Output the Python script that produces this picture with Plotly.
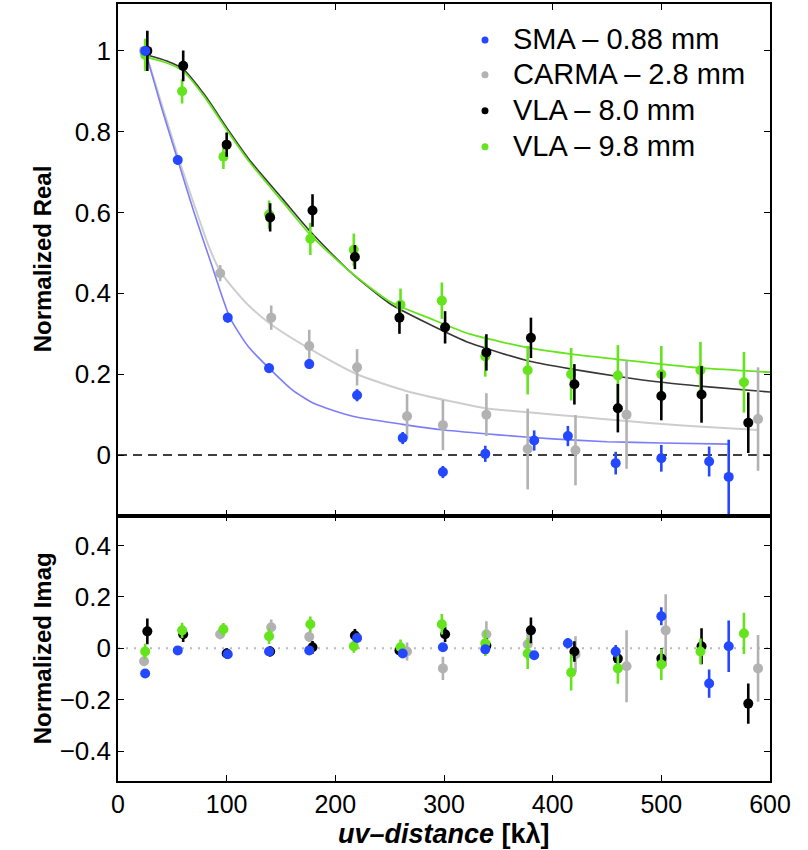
import plotly.graph_objects as go
from plotly.subplots import make_subplots

# ---------------- data ----------------
SMA_x = [25, 55, 101, 139, 176, 220, 262, 299, 338, 383, 414, 458, 500, 544, 562]
SMA_re = [1.0, 0.73, 0.34, 0.215, 0.225, 0.148, 0.042, -0.042, 0.003, 0.036, 0.047, -0.02, -0.008, -0.016, -0.054]
SMA_re_err = [0.01, 0.012, 0.012, 0.012, 0.012, 0.015, 0.015, 0.015, 0.02, 0.025, 0.025, 0.028, 0.033, 0.037, 0.092]
SMA_im = [-0.098, -0.008, -0.023, -0.012, -0.008, 0.04, -0.02, 0.004, -0.004, -0.027, 0.02, -0.012, 0.125, -0.137, 0.008]
SMA_im_err = [0.01, 0.01, 0.012, 0.012, 0.012, 0.015, 0.015, 0.015, 0.015, 0.015, 0.02, 0.025, 0.035, 0.055, 0.1]

CARMA_x = [24, 94, 141, 176, 220, 266, 299, 339, 377, 421, 468, 504, 589]
CARMA_re = [1.0, 0.45, 0.34, 0.27, 0.217, 0.096, 0.074, 0.10, 0.015, 0.012, 0.10, None, 0.089]
CARMA_re_err = [0.01, 0.02, 0.03, 0.04, 0.045, 0.055, 0.062, 0.053, 0.1, 0.087, 0.134, 0, 0.128]
CARMA_im = [-0.05, 0.055, 0.082, 0.045, 0.04, -0.012, -0.078, 0.055, 0.016, -0.023, -0.07, 0.07, -0.078]
CARMA_im_err = [0.02, 0.02, 0.03, 0.02, 0.02, 0.035, 0.045, 0.05, 0.06, 0.07, 0.14, 0.14, 0.13]

VLA8_x = [27, 60, 100, 140, 179, 218, 259, 301, 339, 380, 420, 460, 500, 537, 580]
VLA8_re = [1.0, 0.963, 0.768, 0.588, 0.605, 0.49, 0.34, 0.316, 0.254, 0.29, 0.175, 0.116, 0.146, 0.15, 0.08]
VLA8_re_err = [0.05, 0.038, 0.03, 0.035, 0.04, 0.03, 0.04, 0.04, 0.045, 0.05, 0.05, 0.06, 0.06, 0.07, 0.075]
VLA8_im = [0.066, 0.055, -0.02, -0.012, 0.004, 0.05, -0.008, 0.055, 0.01, 0.07, -0.012, -0.04, -0.04, 0.008, -0.215]
VLA8_im_err = [0.05, 0.03, 0.02, 0.02, 0.025, 0.025, 0.02, 0.03, 0.03, 0.05, 0.04, 0.04, 0.04, 0.07, 0.078]

VLA98_x = [25, 59, 97, 139, 177, 217, 260, 298, 338, 377, 417, 460, 500, 536, 576]
VLA98_re = [0.99, 0.9, 0.738, 0.595, 0.535, 0.508, 0.372, 0.382, 0.244, 0.21, 0.2, 0.197, 0.2, 0.21, 0.18]
VLA98_re_err = [0.04, 0.03, 0.03, 0.035, 0.04, 0.04, 0.04, 0.045, 0.05, 0.06, 0.065, 0.075, 0.07, 0.07, 0.075]
VLA98_im = [-0.012, 0.07, 0.074, 0.047, 0.094, 0.008, 0.004, 0.094, 0.02, -0.02, -0.094, -0.078, -0.063, -0.012, 0.058]
VLA98_im_err = [0.03, 0.03, 0.025, 0.03, 0.03, 0.025, 0.03, 0.04, 0.05, 0.06, 0.07, 0.06, 0.06, 0.05, 0.08]

# model curves
SMA_fit_x = [25, 40, 55, 70, 85, 103, 120, 139, 160, 180, 216, 262, 300, 350, 400, 450, 500, 562]
SMA_fit_y = [1.0, 0.86, 0.73, 0.60, 0.48, 0.34, 0.268, 0.215, 0.162, 0.128, 0.096, 0.076, 0.062, 0.05, 0.04, 0.033, 0.03, 0.027]
CARMA_fit_x = [25, 40, 55, 70, 83, 94, 110, 121, 140, 177, 220, 266, 315, 338, 380, 419, 468, 510, 550, 589]
CARMA_fit_y = [1.0, 0.87, 0.74, 0.62, 0.52, 0.455, 0.40, 0.368, 0.325, 0.262, 0.2, 0.158, 0.128, 0.116, 0.105, 0.096, 0.084, 0.075, 0.068, 0.062]
VLA8_fit_x = [27, 45, 60, 80, 100, 121, 152, 177, 213, 250, 287, 324, 379, 419, 459, 500, 538, 600]
VLA8_fit_y = [0.99, 0.975, 0.955, 0.89, 0.81, 0.73, 0.632, 0.553, 0.455, 0.375, 0.323, 0.277, 0.232, 0.212, 0.195, 0.18, 0.17, 0.156]
VLA98_fit_x = [25, 45, 60, 80, 100, 121, 152, 177, 213, 250, 287, 324, 379, 419, 459, 500, 538, 600]
VLA98_fit_y = [0.985, 0.97, 0.95, 0.885, 0.805, 0.725, 0.625, 0.545, 0.455, 0.38, 0.338, 0.299, 0.265, 0.249, 0.237, 0.225, 0.215, 0.205]

LABELS = ["SMA – 0.88 mm", "CARMA – 2.8 mm", "VLA – 8.0 mm", "VLA – 9.8 mm"]
X_TICKS = [0, 100, 200, 300, 400, 500, 600]
RE_TICKS = [0, 0.2, 0.4, 0.6, 0.8, 1]
RE_TICKTEXT = ["0", "0.2", "0.4", "0.6", "0.8", "1"]
IM_TICKS = [-0.4, -0.2, 0, 0.2, 0.4]
IM_TICKTEXT = ["−0.4", "−0.2", "0", "0.2", "0.4"]

# ---------------- styling ----------------
C_SMA = "rgb(36,72,255)"
C_CARMA = "rgb(178,178,178)"
C_VLA8 = "rgb(0,0,0)"
C_VLA98 = "rgb(100,228,28)"
F_SMA = "rgb(125,125,250)"
F_CARMA = "rgb(205,205,205)"
F_VLA8 = "rgb(55,55,55)"
F_VLA98 = "rgb(100,228,28)"
COLORS = [C_SMA, C_CARMA, C_VLA8, C_VLA98]
FONT = "Liberation Sans, Arial, Helvetica, sans-serif"

# plot-area geometry in pixels
W, H = 808, 850
L, R, T, B = 118, 38, 2, 69
PW, PH = W - L - R, H - T - B


def px_x(p):
    return (p - L) / PW


def px_y(p):
    return (H - B - p) / PH


fig = make_subplots(rows=2, cols=1, shared_xaxes=True, vertical_spacing=0,
                    row_heights=[513 / 779, 266 / 779])


def pts(x, y, err, color, row):
    fig.add_trace(go.Scatter(
        x=x, y=y, mode="markers", showlegend=False,
        marker=dict(color=color, size=10, line=dict(width=0)),
        error_y=dict(type="data", array=err, visible=True, width=0,
                     thickness=2.6, color=color),
        cliponaxis=True, hoverinfo="skip"), row=row, col=1)


def fit(x, y, color, width=2):
    fig.add_trace(go.Scatter(
        x=x, y=y, mode="lines", showlegend=False,
        line=dict(color=color, width=width, shape="spline", smoothing=0.6),
        hoverinfo="skip"), row=1, col=1)


# top panel: model lines then points
fit(CARMA_fit_x, CARMA_fit_y, F_CARMA)
fit(SMA_fit_x, SMA_fit_y, F_SMA, 1.6)
fit(VLA8_fit_x, VLA8_fit_y, F_VLA8, 1.6)
fit(VLA98_fit_x, VLA98_fit_y, F_VLA98, 1.8)
pts(CARMA_x, CARMA_re, CARMA_re_err, C_CARMA, 1)
pts(VLA98_x, VLA98_re, VLA98_re_err, C_VLA98, 1)
pts(VLA8_x, VLA8_re, VLA8_re_err, C_VLA8, 1)
pts(SMA_x, SMA_re, SMA_re_err, C_SMA, 1)

# bottom panel
pts(CARMA_x, CARMA_im, CARMA_im_err, C_CARMA, 2)
pts(VLA8_x, VLA8_im, VLA8_im_err, C_VLA8, 2)
pts(VLA98_x, VLA98_im, VLA98_im_err, C_VLA98, 2)
pts(SMA_x, SMA_im, SMA_im_err, C_SMA, 2)

# reference zero lines
fig.add_shape(type="line", xref="x domain", yref="y", x0=0, x1=1, y0=0, y1=0,
              line=dict(color="black", width=1.6, dash="9px,6px"), layer="below")
fig.add_shape(type="line", xref="x2 domain", yref="y2", x0=0, x1=1, y0=0, y1=0,
              line=dict(color="rgb(185,185,185)", width=2, dash="2px,6px"), layer="below")

# legend (text + small dots), MATLAB-like
LEG_ROWS_PX = [37, 72, 108, 144]
for lab, col, ypx in zip(LABELS, COLORS, LEG_ROWS_PX):
    fig.add_annotation(text=lab, xref="paper", yref="paper", x=px_x(511), y=px_y(ypx),
                       xanchor="left", yanchor="middle", showarrow=False,
                       font=dict(family=FONT, size=29, color="black"))
    fig.add_shape(type="circle", xref="paper", yref="paper",
                  xsizemode="pixel", ysizemode="pixel",
                  xanchor=px_x(485), yanchor=px_y(ypx + 1),
                  x0=-3.5, x1=3.5, y0=-3.5, y1=3.5,
                  fillcolor=col, line=dict(width=0))

axis_common = dict(showline=True, linecolor="black", linewidth=1.6, mirror="allticks",
                   ticks="inside", ticklen=6, tickwidth=1, tickcolor="black",
                   showgrid=False, zeroline=False,
                   tickfont=dict(family=FONT, size=26, color="black"))

fig.update_xaxes(**axis_common, range=[0, 600], tickvals=X_TICKS)
fig.update_xaxes(showticklabels=False, row=1, col=1)
fig.update_xaxes(tickfont=dict(family=FONT, size=25, color="black"), row=2, col=1)
fig.update_yaxes(**axis_common)
fig.update_yaxes(range=[-0.15, 1.116], tickvals=RE_TICKS, ticktext=RE_TICKTEXT, row=1, col=1)
fig.update_yaxes(range=[-0.516, 0.516], tickvals=IM_TICKS, ticktext=IM_TICKTEXT, row=2, col=1)

fig.add_annotation(text="<b>Normalized Real</b>", xref="paper", yref="paper",
                   x=px_x(42), y=px_y(258), textangle=-90, showarrow=False,
                   xanchor="center", yanchor="middle",
                   font=dict(family=FONT, size=24, color="black"))
fig.add_annotation(text="<b>Normalized Imag</b>", xref="paper", yref="paper",
                   x=px_x(42), y=px_y(648), textangle=-90, showarrow=False,
                   xanchor="center", yanchor="middle",
                   font=dict(family=FONT, size=24, color="black"))
fig.add_annotation(text="<b><i>uv–distance</i> [kλ]</b>", xref="paper", yref="paper",
                   x=px_x(444), y=px_y(834), showarrow=False, xanchor="center",
                   yanchor="middle", font=dict(family=FONT, size=27, color="black"))

fig.update_layout(
    width=W, height=H,
    margin=dict(l=L, r=R, t=T, b=B),
    paper_bgcolor="white", plot_bgcolor="white",
    font=dict(family=FONT, color="black"),
    showlegend=False,
)

fig.write_html("out.html", config={"displayModeBar": False},
               post_script="document.body.style.margin='0';")
